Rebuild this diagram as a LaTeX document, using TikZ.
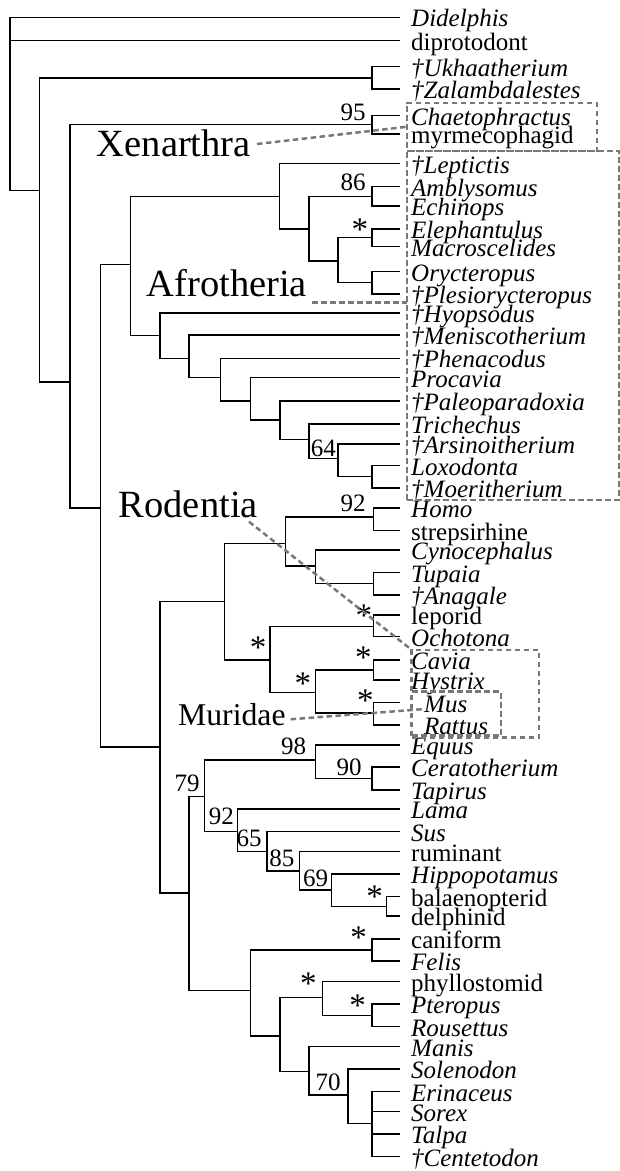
\documentclass[tikz,border=0pt]{standalone}
\usepackage{fontspec}
\setmainfont{Liberation Serif}
\newcommand\leaffont{\fontsize{25}{25}\selectfont}
\newcommand\astfont{\fontsize{33}{33}\selectfont}
\newcommand\bigfont{\fontsize{38.5}{40}\selectfont}
\newcommand\murfont{\fontsize{31.7}{32}\selectfont}
\definecolor{dgray}{RGB}{120,120,120}
\tikzset{
  br/.style={line width=1.3pt},
  leaf/.style={anchor=base west, inner sep=0pt, font=\leaffont},
  boot/.style={anchor=base east, inner sep=0pt, font=\leaffont},
  ast/.style={anchor=base, inner sep=0pt, font=\astfont},
  clade/.style={anchor=base west, inner sep=0pt, font=\bigfont},
  hl/.style={draw=dgray, line width=2.5pt, dash pattern=on 5.5pt off 3.5pt},
  hlbox/.style={hl, rectangle, inner sep=0pt},
}
\newcommand\leaf[4]{\coordinate (t#1) at (400,#2); \node[leaf] (n#1) at ({#4},{#2+9.5}) {#3};}
\begin{document}
\begin{tikzpicture}[x=1pt,y=-1pt]
\useasboundingbox (0,0) rectangle (620,1171);
% leaves
\leaf{1}{17.3}{\textit{Didelphis}}{411}
\leaf{2}{40.7}{diprotodont}{411}
\leaf{3}{66.7}{\textit{†Ukhaatherium}}{411}
\leaf{4}{89}{\textit{†Zalambdalestes}}{411}
\leaf{5}{115.5}{\textit{Chaetophractus}}{411}
\leaf{6}{134}{myrmecophagid}{411}
\leaf{7}{163.5}{\textit{†Leptictis}}{411}
\leaf{8}{186.7}{\textit{Amblysomus}}{411}
\leaf{9}{206}{\textit{Echinops}}{411}
\leaf{10}{229}{\textit{Elephantulus}}{411}
\leaf{11}{246.7}{\textit{Macroscelides}}{411}
\leaf{12}{271.7}{\textit{Orycteropus}}{411}
\leaf{13}{294}{\textit{†Plesiorycteropus}}{411}
\leaf{14}{313}{\textit{†Hyopsodus}}{411}
\leaf{15}{335}{\textit{†Meniscotherium}}{411}
\leaf{16}{358.3}{\textit{†Phenacodus}}{411}
\leaf{17}{377.7}{\textit{Procavia}}{411}
\leaf{18}{401}{\textit{†Paleoparadoxia}}{411}
\leaf{19}{424}{\textit{Trichechus}}{411}
\leaf{20}{444}{\textit{†Arsinoitherium}}{411}
\leaf{21}{465.7}{\textit{Loxodonta}}{411}
\leaf{22}{488}{\textit{†Moeritherium}}{411}
\leaf{23}{508}{\textit{Homo}}{411}
\leaf{24}{530.7}{strepsirhine}{411}
\leaf{25}{550}{\textit{Cynocephalus}}{411}
\leaf{26}{572.7}{\textit{Tupaia}}{411}
\leaf{27}{595}{\textit{†Anagale}}{411}
\leaf{28}{615}{leporid}{411}
\leaf{29}{636.7}{\textit{Ochotona}}{411}
\leaf{30}{660}{\textit{Cavia}}{411}
\leaf{31}{680}{\textit{Hystrix}}{411}
\leaf{32}{702.7}{\textit{Mus}}{424}
\leaf{33}{725}{\textit{Rattus}}{424}
\leaf{34}{745}{\textit{Equus}}{411}
\leaf{35}{767}{\textit{Ceratotherium}}{411}
\leaf{36}{790}{\textit{Tapirus}}{411}
\leaf{37}{809}{\textit{Lama}}{411}
\leaf{38}{831.7}{\textit{Sus}}{411}
\leaf{39}{851.7}{ruminant}{411}
\leaf{40}{874}{\textit{Hippopotamus}}{411}
\leaf{41}{896.7}{balaenopterid}{411}
\leaf{42}{916}{delphinid}{411}
\leaf{43}{939}{caniform}{411}
\leaf{44}{961}{\textit{Felis}}{411}
\leaf{45}{981.7}{phyllostomid}{411}
\leaf{46}{1004}{\textit{Pteropus}}{411}
\leaf{47}{1026.7}{\textit{Rousettus}}{411}
\leaf{48}{1046.7}{\textit{Manis}}{411}
\leaf{49}{1069}{\textit{Solenodon}}{411}
\leaf{50}{1091.7}{\textit{Erinaceus}}{411}
\leaf{51}{1111.7}{\textit{Sorex}}{411}
\leaf{52}{1134}{\textit{Talpa}}{411}
\leaf{53}{1156.7}{\textit{†Centetodon}}{411}
% internal nodes
\coordinate (root) at (10,17.3);
\coordinate (E) at (39.3,190.5);
\coordinate (UZ) at (372,78);
\coordinate (C) at (70,382);
\coordinate (X) at (372,124.8);
\coordinate (N85) at (100.8,508);
\coordinate (Afro) at (130.3,264.3);
\coordinate (AfroA) at (279.5,196.3);
\coordinate (A2) at (309,229);
\coordinate (AE) at (372,196.3);
\coordinate (A3) at (338,261);
\coordinate (ME) at (372,237.8);
\coordinate (OP) at (372,282.8);
\coordinate (Ung) at (160,335.5);
\coordinate (U2) at (189,358.3);
\coordinate (U3) at (220.6,377.7);
\coordinate (U4) at (250.3,401);
\coordinate (U5) at (280,420);
\coordinate (U6) at (309,439.3);
\coordinate (U7) at (338,458.3);
\coordinate (U8) at (372,476.8);
\coordinate (Bor) at (160,747);
\coordinate (EA) at (224.6,601.7);
\coordinate (Euarch) at (285.5,543.3);
\coordinate (HS) at (373.7,517);
\coordinate (CT) at (315.5,566);
\coordinate (TA) at (373.7,583.8);
\coordinate (Gl) at (270,660);
\coordinate (LO) at (373.7,626.7);
\coordinate (R) at (315.5,692.7);
\coordinate (CH) at (373.7,670);
\coordinate (MR) at (373.7,713);
\coordinate (Lau) at (189,893);
\coordinate (P) at (204.8,796.7);
\coordinate (Per) at (315.5,760);
\coordinate (CT2) at (372,778.5);
\coordinate (Cet) at (237.2,831.7);
\coordinate (C2) at (266.9,851.7);
\coordinate (C3) at (299.3,871);
\coordinate (C4) at (331.4,890);
\coordinate (W) at (386.7,906.3);
\coordinate (Q) at (250.3,990.7);
\coordinate (CF) at (372,950);
\coordinate (B) at (280,1036);
\coordinate (Ch) at (322.3,997.3);
\coordinate (PR) at (372,1015.3);
\coordinate (Eul) at (309,1071.7);
\coordinate (S) at (348,1095);
\coordinate (ES) at (372,1123.3);
% branches
\draw[br] (root) |- (t1); \draw[br] (root) |- (t2); \draw[br] (root) |- (E);
\draw[br] (E) |- (UZ); \draw[br] (E) |- (C);
\draw[br] (UZ) |- (t3); \draw[br] (UZ) |- (t4);
\draw[br] (C) |- (X); \draw[br] (C) |- (N85);
\draw[br] (X) |- (t5); \draw[br] (X) |- (t6);
\draw[br] (N85) |- (Afro); \draw[br] (N85) |- (Bor);
\draw[br] (Afro) |- (AfroA); \draw[br] (Afro) |- (Ung);
\draw[br] (AfroA) |- (t7); \draw[br] (AfroA) |- (A2);
\draw[br] (A2) |- (AE); \draw[br] (A2) |- (A3);
\draw[br] (AE) |- (t8); \draw[br] (AE) |- (t9);
\draw[br] (A3) |- (ME); \draw[br] (A3) |- (OP);
\draw[br] (ME) |- (t10); \draw[br] (ME) |- (t11);
\draw[br] (OP) |- (t12); \draw[br] (OP) |- (t13);
\draw[br] (Ung) |- (t14); \draw[br] (Ung) |- (U2);
\draw[br] (U2) |- (t15); \draw[br] (U2) |- (U3);
\draw[br] (U3) |- (t16); \draw[br] (U3) |- (U4);
\draw[br] (U4) |- (t17); \draw[br] (U4) |- (U5);
\draw[br] (U5) |- (t18); \draw[br] (U5) |- (U6);
\draw[br] (U6) |- (t19); \draw[br] (U6) |- (U7);
\draw[br] (U7) |- (t20); \draw[br] (U7) |- (U8);
\draw[br] (U8) |- (t21); \draw[br] (U8) |- (t22);
\draw[br] (Bor) |- (EA); \draw[br] (Bor) |- (Lau);
\draw[br] (EA) |- (Euarch); \draw[br] (EA) |- (Gl);
\draw[br] (Euarch) |- (HS); \draw[br] (Euarch) |- (CT);
\draw[br] (HS) |- (t23); \draw[br] (HS) |- (t24);
\draw[br] (CT) |- (t25); \draw[br] (CT) |- (TA);
\draw[br] (TA) |- (t26); \draw[br] (TA) |- (t27);
\draw[br] (Gl) |- (LO); \draw[br] (Gl) |- (R);
\draw[br] (LO) |- (t28); \draw[br] (LO) |- (t29);
\draw[br] (R) |- (CH); \draw[br] (R) |- (MR);
\draw[br] (CH) |- (t30); \draw[br] (CH) |- (t31);
\draw[br] (MR) |- (t32); \draw[br] (MR) |- (t33);
\draw[br] (Lau) |- (P); \draw[br] (Lau) |- (Q);
\draw[br] (P) |- (Per); \draw[br] (P) |- (Cet);
\draw[br] (Per) |- (t34); \draw[br] (Per) |- (CT2);
\draw[br] (CT2) |- (t35); \draw[br] (CT2) |- (t36);
\draw[br] (Cet) |- (t37); \draw[br] (Cet) |- (C2);
\draw[br] (C2) |- (t38); \draw[br] (C2) |- (C3);
\draw[br] (C3) |- (t39); \draw[br] (C3) |- (C4);
\draw[br] (C4) |- (t40); \draw[br] (C4) |- (W);
\draw[br] (W) |- (t41); \draw[br] (W) |- (t42);
\draw[br] (Q) |- (CF); \draw[br] (Q) |- (B);
\draw[br] (CF) |- (t43); \draw[br] (CF) |- (t44);
\draw[br] (B) |- (Ch); \draw[br] (B) |- (Eul);
\draw[br] (Ch) |- (t45); \draw[br] (Ch) |- (PR);
\draw[br] (PR) |- (t46); \draw[br] (PR) |- (t47);
\draw[br] (Eul) |- (t48); \draw[br] (Eul) |- (S);
\draw[br] (S) |- (t49); \draw[br] (S) |- (ES);
\draw[br] (ES) |- (t50); \draw[br] (ES) |- (t51);
\draw[br] (ES) |- (t52); \draw[br] (ES) |- (t53);
% support values
\node[boot] (b95) at (365.7,120.7) {95};
\node[boot] (b86) at (365.7,190.7) {86};
\node[boot] (b64) at (336,456.7) {64};
\node[boot] (b92a) at (365.7,511.7) {92};
\node[boot] (b98) at (306.4,754) {98};
\node[boot] (b90) at (361.8,775.7) {90};
\node[boot] (b79) at (199.7,791.7) {79};
\node[boot] (b92b) at (234,824) {92};
\node[boot] (b65) at (261.8,846.7) {65};
\node[boot] (b85) at (294.6,866.7) {85};
\node[boot] (b69) at (328.2,886.7) {69};
\node[boot] (b70) at (340.8,1090.7) {70};
\node[ast] (a1) at (359.8,240.2) {*};
\node[ast] (a2) at (363.8,626.5) {*};
\node[ast] (a3) at (258.2,658.9) {*};
\node[ast] (a4) at (363.4,668.2) {*};
\node[ast] (a5) at (302.9,694.2) {*};
\node[ast] (a6) at (365.4,711.5) {*};
\node[ast] (a7) at (374.5,907.5) {*};
\node[ast] (a8) at (358.6,948.2) {*};
\node[ast] (a9) at (308.4,994.9) {*};
\node[ast] (a10) at (357.5,1016.5) {*};
% clade labels and boxes
\node[clade] (xen) at (96.7,156) {Xenarthra};
\node[clade] (afr) at (146.5,296.7) {Afrotheria};
\node[clade] (rod) at (118.6,517.7) {Rodentia};
\node[clade, font=\murfont] (mur) at (178,725) {Muridae};
\node[hlbox, minimum width=190pt, minimum height=48.3pt] (xbox) at (502,126.9) {};
\node[hlbox, minimum width=211.8pt, minimum height=349pt] (abox) at (512.9,325.5) {};
\node[hlbox, minimum width=127.5pt, minimum height=87.5pt] (rbox) at (475.25,693.75) {};
\node[hlbox, minimum width=89pt, minimum height=43.8pt] (mbox) at (456.5,713.6) {};
\coordinate (xs) at (257,144);
\coordinate (as) at (312.4,302.7);
\coordinate (ae) at (407,302.7);
\coordinate (rs) at (249,521.7);
\coordinate (ms) at (290.6,719.3);
\coordinate (me) at (425,709);
\draw[hl] (xs) -- (xbox.west);
\draw[hl] (as) -- (ae);
\draw[hl] (rs) -- (rbox.north west);
\draw[hl] (ms) -- (me);
\end{tikzpicture}
\end{document}
